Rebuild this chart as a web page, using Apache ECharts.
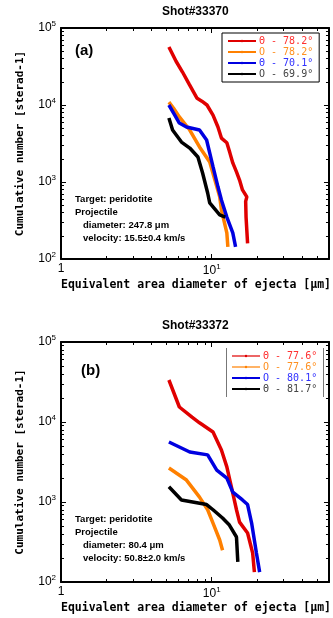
<!DOCTYPE html>
<html><head><meta charset="utf-8">
<script src="https://cdn.jsdelivr.net/npm/echarts@6/dist/echarts.min.js"></script>
<style>html,body{margin:0;padding:0;background:#fff}#c{width:333px;height:618px}</style>
</head><body><div id="c"></div>
<script>
// ---- data (diameter [um], cumulative number [sterad^-1]) ----
const titles = ['Shot#33370', 'Shot#33372'];
const panelLabels = ['(a)', '(b)'];
const legendA = ['Θ - 78.2°', 'O - 78.2°', 'Θ - 70.1°', 'O - 69.9°'];
const legendB = ['Θ - 77.6°', 'O - 77.6°', 'O - 80.1°', 'Θ - 81.7°'];
const infoA = ['Target: peridotite', 'Projectile', 'diameter: 247.8 μm', 'velocity: 15.5±0.4 km/s'];
const infoB = ['Target: peridotite', 'Projectile', 'diameter: 80.4 μm', 'velocity: 50.8±2.0 km/s'];
const xMajorTicks = [1, 10];
const xMinorTicks = [2, 3, 4, 5, 6, 7, 8, 9, 20, 30, 40, 50];
const yMajorTicks = [100, 1000, 10000, 100000];
const yMinorTicks = [200, 300, 400, 500, 600, 700, 800, 900, 2000, 3000, 4000, 5000, 6000, 7000, 8000, 9000, 20000, 30000, 40000, 50000, 60000, 70000, 80000, 90000];

const aRed = [[5.2,56600],[5.8,37000],[6.4,26800],[7.1,18500],[8.0,12200],[8.6,11200],[9.3,10000],[10.2,7400],[11.0,5180],[11.6,3720],[12.6,3230],[13.2,2390],[13.8,1770],[14.6,1350],[15.3,1060],[16.0,790],[17.1,640],[16.8,560],[16.9,350],[17.3,160]];
const aOrange = [[5.2,10900],[5.6,9000],[6.1,7000],[7.15,4730],[8.3,2850],[9.7,1820],[10.5,1060],[11.3,645],[11.6,435],[12.6,218],[12.8,144]];
const aBlue = [[5.2,10000],[5.6,7800],[6.1,5830],[6.8,5180],[8.3,4730],[9.25,3510],[10.2,1580],[11.0,866],[11.6,585],[12.6,350],[13.8,218],[14.4,144]];
const aBlack = [[5.2,6780],[5.5,4730],[6.3,3300],[7.15,2760],[8.1,2110],[8.7,1310],[9.4,720],[9.7,535],[11.3,375],[12.3,350]];

const bRed = [[5.2,33500],[6.1,15400],[7.4,11500],[8.3,9770],[10.2,7500],[11.6,4470],[12.6,2750],[13.8,1290],[14.6,800],[15.3,560],[17.3,410],[18.7,230],[19.2,133]];
const bOrange = [[5.2,2660],[6.8,1880],[8.3,1150],[9.4,800],[10.2,545],[11.3,335],[11.8,250]];
const bBlue = [[5.2,5620],[7.15,4220],[9.4,3880],[10.8,2510],[12.6,1990],[13.8,1330],[16.0,1060],[17.3,930],[18.4,545],[19.8,230],[20.8,133]];
const bBlack = [[5.2,1550],[6.3,1060],[9.25,930],[10.2,800],[11.8,630],[13.1,515],[14.6,365],[14.9,178]];

const colors = ['#e00000', '#ff8000', '#0000e0', '#000000'];
const textColors = ['#ff3030', '#ff9020', '#3030ff', '#444444'];

const chart = echarts.init(document.getElementById('c'), null, {renderer: 'canvas'});
const mono = 'DejaVu Sans Mono';
const sans = 'Liberation Sans';
const supRich = {s: {fontSize: 8, verticalAlign: 'top', padding: [0, 0, 8, 0], fontFamily: sans, color: '#000'}};

function axisSet(kind, gi, min, max, majors, minors) {
  const isX = kind === 'x';
  const base = {type: 'log', logBase: 10, min: min, max: max, gridIndex: gi,
    splitLine: {show: false}, minorTick: {show: false}, splitNumber: 3};
  const line = {onZero: false, lineStyle: {color: '#000', width: 2}};
  const pos = isX ? ['bottom', 'top'] : ['left', 'right'];
  const out = [];
  pos.forEach((p, pi) => {
    const major = Object.assign({}, base, {position: p, axisLine: line,
      axisTick: {inside: true, length: 5, customValues: majors, lineStyle: {color: '#000', width: 1}}});
    if (pi === 0) {
      major.axisLabel = {show: true, customValues: majors, margin: isX ? 4 : 5, fontFamily: sans, fontSize: 12, color: '#000',
        formatter: v => (isX && v === 1) ? '1' : '10{s|' + Math.round(Math.log10(v)) + '}', rich: supRich};
      if (isX) {
        major.name = 'Equivalent area diameter of ejecta [μm]';
        major.nameLocation = 'middle'; major.nameGap = 20;
        major.nameTextStyle = {fontFamily: mono, fontWeight: 'bold', fontSize: 11.5, color: '#000', padding: [0, 0, 0, 2]};
      } else {
        major.name = 'Cumulative number [sterad-1]';
        major.nameLocation = 'middle'; major.nameGap = 35; major.nameRotate = 90;
        major.nameTextStyle = {fontFamily: mono, fontWeight: 'bold', fontSize: 11, color: '#000'};
      }
    } else {
      major.axisLabel = {show: false};
    }
    const minor = Object.assign({}, base, {position: p, axisLine: {show: false, onZero: false},
      axisTick: {inside: true, length: 3, customValues: minors, lineStyle: {color: '#000', width: 1}},
      axisLabel: {show: false}});
    out.push(major, minor);
  });
  return out;
}

function mkSeries(data, ci, xi, yi, name, width) {
  return {type: 'line', name: name, data: data, xAxisIndex: xi, yAxisIndex: yi,
    showSymbol: false, symbol: 'none', lineStyle: {color: colors[ci], width: width}, itemStyle: {color: colors[ci]},
    animation: false};
}

const seriesA = [aRed, aOrange, aBlue, aBlack];
const seriesB = [bRed, bOrange, bBlue, bBlack];
const series = [];
seriesA.forEach((d, i) => series.push(mkSeries(d, i, 0, 0, 'a' + i, 3.5)));
seriesB.forEach((d, i) => series.push(mkSeries(d, i, 4, 4, 'b' + i, 3.5)));

function legend(names, labels, top, left, w, border, thinFirst) {
  return {orient: 'vertical', top: top, left: left, width: w, itemWidth: 28, itemHeight: 3, itemGap: 1,
    padding: [3, 6, 3, 5], borderColor: '#000', borderWidth: border,
    data: names.map((n, i) => {
      const it = {name: n, textStyle: {color: textColors[i]}};
      if (thinFirst && i < 2) { it.lineStyle = {width: 1.2}; }
      return it;
    }),
    formatter: n => labels[names.indexOf(n)],
    textStyle: {fontFamily: mono, fontSize: 10, padding: [0, 0, 0, -2]}, selectedMode: false};
}

function info(lines, x, y) {
  return lines.map((t, i) => ({type: 'text', left: x + (i >= 2 ? 8 : 0), top: y + i * 13,
    style: {text: t, font: 'bold 9.5px "Liberation Sans"', fill: '#000'}}));
}

chart.setOption({
  animation: false,
  grid: [
    {left: 61, top: 28, width: 268, height: 231},
    {left: 61, top: 342, width: 268, height: 240}
  ],
  xAxis: axisSet('x', 0, 1, 60, xMajorTicks, xMinorTicks).concat(axisSet('x', 1, 1, 60, xMajorTicks, xMinorTicks)),
  yAxis: axisSet('y', 0, 100, 100000, yMajorTicks, yMinorTicks).concat(axisSet('y', 1, 100, 100000, yMajorTicks, yMinorTicks)),
  legend: [
    legend(['a0','a1','a2','a3'], legendA, 33, 222, 99, 1, false),
    legend(['b0','b1','b2','b3'], legendB, 348, 226, 97, 0, true)
  ],
  series: series,
  graphic: [
    {type: 'text', left: 162, top: 6, style: {text: titles[0], font: 'bold 12px "Liberation Sans"', fill: '#000'}},
    {type: 'text', left: 162, top: 320, style: {text: titles[1], font: 'bold 12px "Liberation Sans"', fill: '#000'}},
    {type: 'text', left: 75, top: 43, style: {text: panelLabels[0], font: 'bold 15px "Liberation Sans"', fill: '#000'}},
    {type: 'text', left: 81, top: 363, style: {text: panelLabels[1], font: 'bold 15px "Liberation Sans"', fill: '#000'}},
    {type: 'line', shape: {x1: 226.5, y1: 348, x2: 226.5, y2: 397}, style: {stroke: '#777', lineWidth: 1}},
    {type: 'line', shape: {x1: 323.5, y1: 348, x2: 323.5, y2: 397}, style: {stroke: '#777', lineWidth: 1}}
  ].concat(info(infoA, 75, 194)).concat(info(infoB, 75, 514))
});
</script></body></html>
